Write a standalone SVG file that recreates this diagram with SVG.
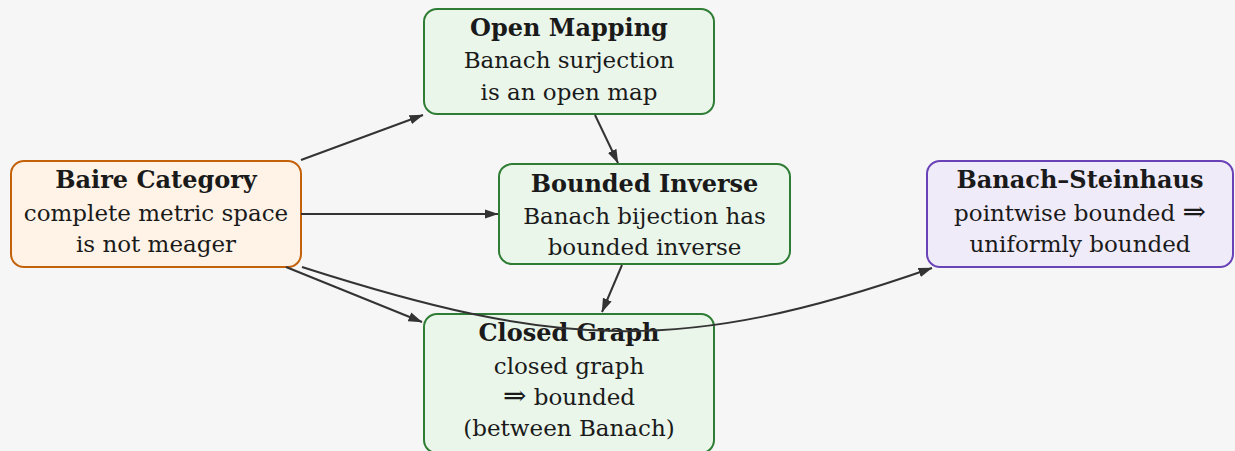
<svg xmlns="http://www.w3.org/2000/svg" width="1235" height="451" viewBox="0 0 1235 451">
  <defs>
    <marker id="arrow" viewBox="0 0 14 10" refX="13.5" refY="5" markerWidth="14" markerHeight="10" markerUnits="userSpaceOnUse" orient="auto">
      <path d="M0,0.3 L14,5 L0,9.7 z" fill="#333333"/>
    </marker>
  </defs>
  <style>
    .box { stroke-width: 2; }
    .orange { fill: #fef3e6; stroke: #c4620c; }
    .green { fill: #ebf6eb; stroke: #2f7d34; }
    .purple { fill: #f0ebf9; stroke: #6a42b8; }
    text { font-family: "DejaVu Serif", "Liberation Serif", serif; font-size: 23px; fill: #1a1a1a; text-anchor: middle; }
    .title { font-weight: bold; font-size: 24px; }
    .implies { font-size: 28px; }
    .edge { fill: none; stroke: #333333; stroke-width: 2; marker-end: url(#arrow); }
  </style>
  <rect width="1235" height="451" fill="#f6f6f6"/>

  <g id="baire">
    <rect class="box orange" x="11" y="161" width="290" height="106" rx="13"/>
    <text class="title" x="156" y="188">Baire Category</text>
    <text x="156" y="221">complete metric space</text>
    <text x="156" y="252">is not meager</text>
  </g>

  <g id="open-mapping">
    <rect class="box green" x="424" y="9" width="290" height="105" rx="13"/>
    <text class="title" x="569" y="36">Open Mapping</text>
    <text x="569" y="68">Banach surjection</text>
    <text x="569" y="100">is an open map</text>
  </g>

  <g id="bounded-inverse">
    <rect class="box green" x="499" y="164" width="291" height="100" rx="13"/>
    <text class="title" x="644.5" y="192">Bounded Inverse</text>
    <text x="644.5" y="224">Banach bijection has</text>
    <text x="644.5" y="255">bounded inverse</text>
  </g>

  <g id="closed-graph">
    <rect class="box green" x="424" y="314" width="290" height="139" rx="13"/>
    <text class="title" x="569" y="341">Closed Graph</text>
    <text x="569" y="374">closed graph</text>
    <text x="569" y="405"><tspan class="implies">⇒</tspan> bounded</text>
    <text x="569" y="436">(between Banach)</text>
  </g>

  <g id="banach-steinhaus">
    <rect class="box purple" x="927" y="161" width="306" height="106" rx="13"/>
    <text class="title" x="1080" y="188">Banach–Steinhaus</text>
    <text x="1080" y="221">pointwise bounded <tspan class="implies">⇒</tspan></text>
    <text x="1080" y="252">uniformly bounded</text>
  </g>

  <g id="edges">
    <path class="edge" d="M301,160 L423,115"/>
    <path class="edge" d="M301,214 L498,214"/>
    <path class="edge" d="M595,115 L618,163"/>
    <path class="edge" d="M622,265 L602,312"/>
    <path class="edge" d="M286,267 L422,322"/>
    <path class="edge" d="M302,267 C555,348 680,356.6 932,268"/>
  </g>
</svg>
